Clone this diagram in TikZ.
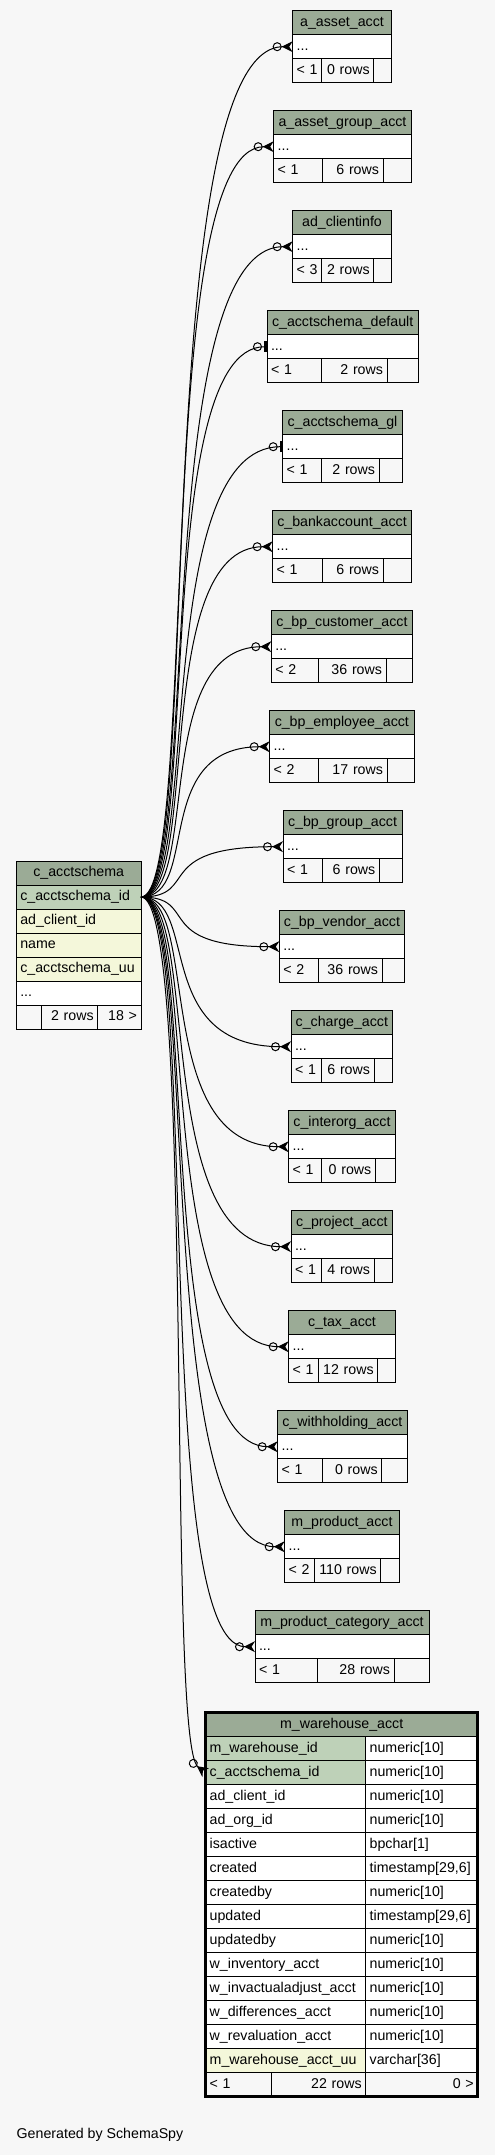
\documentclass[tikz,border=0pt]{standalone}
\usepackage{fontspec}
\setmainfont{Liberation Sans}
\usetikzlibrary{arrows.meta, positioning, calc}

\definecolor{hdrbg}{HTML}{9BAB96}
\definecolor{pkbg}{HTML}{BED1B8}
\definecolor{idxbg}{HTML}{F4F7DA}
\definecolor{pagebg}{HTML}{F7F7F7}

\newcommand{\tabfont}{\fontsize{14.2pt}{17pt}\selectfont}

\tikzset{
    cell/.style={draw=black, line width=0.9pt, fill=white, minimum height=24pt,
        inner xsep=4pt, inner ysep=0pt, outer sep=0pt, anchor=north west,
        text height=10.5pt, text depth=3.5pt, align=left, font=\tabfont},
    hdrcell/.style={cell, fill=hdrbg, align=center},
    footcell/.style={cell, fill=pagebg},
    many/.style={line width=1pt,
        -{Circle[open,length=9pt,width=9pt]Stealth[reversed,length=11pt,width=11pt,inset=3.5pt]}},
    one/.style={line width=1pt,
        -{Circle[open,length=9pt,width=9pt,sep=2pt]Bar[width=11pt,line width=3pt]}}
}

\begin{document}
\begin{tikzpicture}[x=1pt, y=-1pt]
        \useasboundingbox[fill=pagebg] (0,0) rectangle (495,2155);

        % c_acctschema
        \node[hdrcell, text width=116.7pt] (main-hd) at (16.3,861) {c\_acctschema};
        \node[cell, fill=pkbg, text width=116.7pt] (main-pk) at (16.3,885) {c\_acctschema\_id};
        \node[cell, fill=idxbg, text width=116.7pt] (main-client) at (16.3,909) {ad\_client\_id};
        \node[cell, fill=idxbg, text width=116.7pt] (main-name) at (16.3,933) {name};
        \node[cell, fill=idxbg, text width=116.7pt] (main-uu) at (16.3,957) {c\_acctschema\_uu};
        \node[cell, text width=116.7pt] (main-dots) at (16.3,981) {...};
        \node[footcell, text width=17.4pt] (main-f1) at (16.3,1005) {};
        \node[footcell, text width=48pt, align=right] (main-f2) at (41.7,1005) {2 rows};
        \node[footcell, text width=35.3pt, align=right] (main-f3) at (97.7,1005) {18 >};

        % child tables
        \foreach \n/\tn/\l/\r/\sa/\sb/\lo/\rw/\kind [count=\i from 0] in
        {aasset/a\_asset\_acct/292.7/391.3/321.7/373.7/1/0/many,
            agroup/a\_asset\_group\_acct/273.7/411.3/322/383/1/6/many,
            client/ad\_clientinfo/292.7/391.3/321.7/373.7/3/2/many,
            asdefault/c\_acctschema\_default/267/418.3/321.7/387/1/2/one,
            asgl/c\_acctschema\_gl/282.7/402.3/321.7/379/1/2/one,
            bank/c\_bankaccount\_acct/272.7/411.3/322/383/1/6/many,
            bpcust/c\_bp\_customer\_acct/271.3/412.7/318/386/2/36/many,
            bpemp/c\_bp\_employee\_acct/269.7/414/318/387/2/17/many,
            bpgroup/c\_bp\_group\_acct/283/402/322/379.3/1/6/many,
            bpvendor/c\_bp\_vendor\_acct/279.3/404.7/318/382/2/36/many,
            charge/c\_charge\_acct/291/392.7/321.7/374/1/6/many,
            interorg/c\_interorg\_acct/288.7/395.3/321.7/375.3/1/0/many,
            project/c\_project\_acct/291/392.7/321.7/374/1/4/many,
            tax/c\_tax\_acct/288.7/395.3/318/377.7/1/12/many,
            withhold/c\_withholding\_acct/277.7/407/322/381.7/1/0/many,
            product/m\_product\_acct/284.7/399.3/314/380.7/2/110/many,
            prodcat/m\_product\_category\_acct/255/429/317.7/394/1/28/many}
        {
            \pgfmathsetmacro\ty{10.7+100*\i}
            \pgfmathsetmacro\wh{\r-\l-8}
            \pgfmathsetmacro\wa{\sa-\l-8}
            \pgfmathsetmacro\wb{\sb-\sa-8}
            \pgfmathsetmacro\wc{\r-\sb-8}
            \pgfmathsetmacro\cb{\l-150}
            \node[hdrcell, text width=\wh pt] (\n-hd) at (\l,\ty) {\tn};
            \node[cell, text width=\wh pt] (\n-dots) at (\l,\ty+24) {...};
            \node[footcell, text width=\wa pt] (\n-f1) at (\l,\ty+48) {< \lo};
            \node[footcell, text width=\wb pt, align=right] (\n-f2) at (\sa,\ty+48) {\rw\ rows};
            \node[footcell, text width=\wc pt] (\n-f3) at (\sb,\ty+48) {};
            \draw[\kind] (main-pk.east) .. controls +(60,0) and +(-\cb,0) .. (\n-dots.west);
        };

        % m_warehouse_acct
        \node[hdrcell, text width=264pt] (wh-hd) at (205.7,1712.7) {m\_warehouse\_acct};
        \foreach \c/\t/\bg [count=\k] in
        {m\_warehouse\_id/numeric[10]/pkbg,
            c\_acctschema\_id/numeric[10]/pkbg,
            ad\_client\_id/numeric[10]/white,
            ad\_org\_id/numeric[10]/white,
            isactive/bpchar[1]/white,
            created/{timestamp[29,6]}/white,
            createdby/numeric[10]/white,
            updated/{timestamp[29,6]}/white,
            updatedby/numeric[10]/white,
            w\_inventory\_acct/numeric[10]/white,
            w\_invactualadjust\_acct/numeric[10]/white,
            w\_differences\_acct/numeric[10]/white,
            w\_revaluation\_acct/numeric[10]/white,
            m\_warehouse\_acct\_uu/varchar[36]/idxbg}
        {
            \node[cell, fill=\bg, text width=152pt] (wh-r\k-l) at (205.7,{1712.7+24*\k}) {\c};
            \node[cell, text width=104pt] (wh-r\k-r) at (365.7,{1712.7+24*\k}) {\t};
        };
        \node[footcell, text width=57.3pt] (wh-f1) at (205.7,2072.7) {< 1};
        \node[footcell, text width=86.7pt, align=right] (wh-f2) at (271,2072.7) {22 rows};
        \node[footcell, text width=104pt, align=right] (wh-f3) at (365.7,2072.7) {0 >};
        \draw[line width=2.5pt] (wh-hd.north west) rectangle (wh-f3.south east);
        \draw[many] (main-pk.east) .. controls +(55,0) and +(-40,-30) .. (wh-r2-l.west);

        \node[inner sep=0pt, anchor=west, font=\tabfont] (credit) at (16.5,2135) {Generated by SchemaSpy};
\end{tikzpicture}
\end{document}
